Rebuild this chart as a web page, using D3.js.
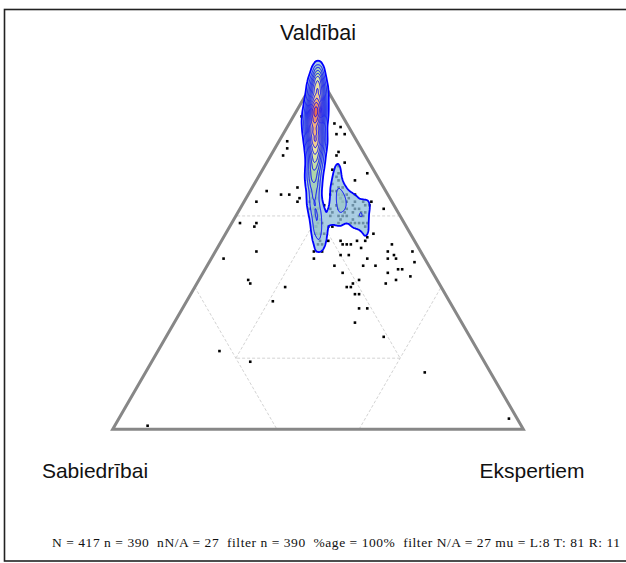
<!DOCTYPE html>
<html><head><meta charset="utf-8">
<script src="https://cdn.jsdelivr.net/npm/d3@7"></script>
<style>body{margin:0;background:#fff}svg{display:block}</style>
</head><body>
<svg id="c" width="626" height="563"></svg>
<script>
// ---- labels ----
const axisTop = "Valdībai";      // T
const axisLeft = "Sabiedrībai";  // L
const axisRight = "Ekspertiem";  // R
const footer = "N = 417 n = 390  nN/A = 27  filter n = 390  %age = 100%  filter N/A = 27 mu = L:8 T: 81 R: 11";
const gridHigh = 60, gridLow = 20;

// ---- individual responses (percent) ----
const ptL = [10,3,2,4,2,17,18,20,6,2,10,10,6,21,29,26,24,22,23,33,5,6,3,8,40,36,37,9,9,11,18,18,17,16,14,14,12,6,8,7,2,9,7,3,40,49,27,20,18,23,16,14,13,22,11,7,8,6,19,13,10,46,46,38,23,22,21,21,22,43,23,21,26,21,63,57,16,91,2,
 12,11,10,10,12,9,12,14,13,16,17,15,9,9,11,18,20,21,23,23,24,23,20,21,20,21,21,14,14,10,12,10,20,22,22,24,26,14,12,
 8,10,7,6,9, 11,13,12,10,14,11,13,15,12,16,11,9,
 12,10,8,7,10,16,13,19,10,7,12,17];
const ptT = [88,86,85,83,83,81,79,77,75,72,71,70,70,68,67,66,66,65,64,64,64,63,62,61,58,58,57,58,55,54,53,52,52,52,53,51,53,52,50,49,50,48,48,47,50,48,48,49,49,46,46,48,46,44,44,45,45,43,42,41,42,42,41,40,40,40,41,38,38,36,34,34,30,26,22,19,16,1,3,
 66,66,66,65,64,64,62,62,61,61,60,60,62,60,58,57,59,58,53,52,52,55,61,62,64,55,53,63,60,58,58,57,58,57,55,50,50,66,67,
 74,73,77,78,72, 68,67,65,63,63,61,60,59,59,62,64,61,
 69,68,66,64,62,58,58,57,60,63,65,63];
const ptR = [2,11,13,13,15,2,3,3,19,26,19,20,24,11,4,8,10,13,13,3,31,31,35,31,2,6,6,33,36,35,29,30,31,32,33,35,35,42,42,44,48,43,45,50,10,3,25,31,33,31,38,38,41,34,45,48,47,51,39,46,48,12,13,22,37,38,38,41,40,21,43,45,44,53,15,24,68,8,95,
 22,23,24,25,24,27,26,24,26,23,23,25,29,31,31,25,21,21,24,25,24,22,19,17,16,24,26,23,26,32,30,33,22,21,23,26,24,20,21,
 18,17,16,16,19, 21,20,23,27,23,28,27,26,29,22,25,30,
 19,22,26,29,28,26,29,24,30,30,23,20];

// ---- repeated responses near the top corner (percent, with counts) ----
const clL = [0, 3,2,1, 4,3,2,1, 6,5,4,3, 7,6,5,4, 8,7,6,5, 10,9,8,7, 11,10,9,8, 12,11,10,9, 13,12,11, 14,13,12, 16,15,14, 17,16,15, 18,17, 19,18, 20,19, 21,20, 22, 23];
const clT = [100, 97,97,97, 95,95,95,95, 92,92,92,92, 90,90,90,90, 88,88,88,88, 85,85,85,85, 82,82,82,82, 80,80,80,80, 77,77,77, 75,75,75, 72,72,72, 70,70,70, 67,67, 65,65, 62,62, 60,60, 57, 55];
const clR = [0, 0,1,2, 1,2,3,4, 2,3,4,5, 3,4,5,6, 4,5,6,7, 5,6,7,8, 7,8,9,10, 8,9,10,11, 10,11,12, 11,12,13, 12,13,14, 13,14,15, 15,16, 16,17, 18,19, 19,20, 21, 22];
const clN = [12, 3,6,6, 4,6,6,3, 3,6,6,5, 5,8,8,5, 6,8,7,5, 6,8,8,6, 5,7,6,4, 4,7,6,3, 5,5,3, 5,5,3, 3,3,2, 3,4,3, 2,3, 2,3, 2,2, 2,2, 2, 2];

// ---- build ----
const svg = d3.select("#c");
const W = 626, H = 563;
const xs = d3.scaleLinear().domain([0, 100]).range([112.7, 523.3]); // position along base: R + T/2
const ys = d3.scaleLinear().domain([0, 100]).range([429.3, 73.7]);  // T
const px = d => xs(d.R + d.T / 2);
const py = d => ys(d.T);

const points = [];
ptL.forEach((l, i) => points.push({L: l, T: ptT[i], R: ptR[i]}));
clL.forEach((l, i) => { for (let k = 0; k < clN[i]; k++) points.push({L: l, T: clT[i], R: clR[i]}); });

// frame
svg.append("rect").attr("x", 4.5).attr("y", 9.5).attr("width", 640).attr("height", 551.5)
  .attr("fill", "none").attr("stroke", "#222").attr("stroke-width", 1.6);

// grid lines
const segs = [];
const comps = ["L", "T", "R"];
comps.forEach((c, ci) => {
  const o1 = comps[(ci + 1) % 3], o2 = comps[(ci + 2) % 3];
  const a = {}; a[c] = gridHigh; a[o1] = 100 - gridHigh; a[o2] = 0;
  const b = {}; b[c] = gridHigh; b[o1] = 0; b[o2] = 100 - gridHigh;
  segs.push([a, b]);
  const e = {}; e[c] = gridLow; e[o1] = gridHigh; e[o2] = 100 - gridHigh - gridLow;
  const f = {}; f[c] = gridLow; f[o2] = gridHigh; f[o1] = 100 - gridHigh - gridLow;
  segs.push([e, f]);
});
svg.append("g").selectAll("line").data(segs).join("line")
  .attr("x1", d => px(d[0])).attr("y1", d => py(d[0]))
  .attr("x2", d => px(d[1])).attr("y2", d => py(d[1]))
  .attr("stroke", "#c8c8c8").attr("stroke-width", 0.8).attr("stroke-dasharray", "3,2");

// triangle
const corners = [{L: 0, T: 100, R: 0}, {L: 100, T: 0, R: 0}, {L: 0, T: 0, R: 100}];
svg.append("path")
  .attr("d", d3.line().x(px).y(py)(corners) + "Z")
  .attr("fill", "none").attr("stroke", "#878787").attr("stroke-width", 3);

// points
svg.append("g").selectAll("rect").data(points).join("rect")
  .attr("x", d => px(d) - 1.3).attr("y", d => py(d) - 1.3).attr("width", 2.6).attr("height", 2.6).attr("fill", "#000");

// density contours (anisotropic kernel: narrower across than along)
const sx = 2;
const dens = d3.contourDensity().x(d => px(d) * sx).y(py).size([Math.ceil(W * sx), H]).cellSize(1).bandwidth(7.5);
const cf = dens.contours(points);
const mx = cf.max;
const nLev = 11, lo = mx * 0.08;
const thr = d3.range(nLev).map(i => lo + (mx * 0.95 - lo) * i / (nLev - 1));
const col = d3.scaleLinear().domain([0, 0.3, 0.55, 0.8, 1])
  .range(["#8dbdda", "#b3d9a2", "#eef0a6", "#f3a876", "#e8604a"]);
const unstretch = d3.geoTransform({point(x, y) { this.stream.point(x / sx, y); }});
const path = d3.geoPath(unstretch);
const g = svg.append("g");
thr.forEach((t, i) => {
  g.append("path").attr("d", path(cf(t)))
    .attr("fill", col(i / (nLev - 1))).attr("fill-opacity", 0.75)
    .attr("stroke", "#0000ff").attr("stroke-width", i === 0 ? 1.8 : 1.0)
    .attr("stroke-linejoin", "round");
});

// labels
const lab = svg.append("g").attr("font-family", "'Liberation Sans', Arial, sans-serif")
  .attr("font-size", 21).attr("fill", "#111").attr("text-anchor", "middle");
lab.append("text").attr("x", 318).attr("y", 40).attr("font-size", 21.5).text(axisTop);
lab.append("text").attr("x", 95).attr("y", 478).text(axisLeft);
lab.append("text").attr("x", 532).attr("y", 478).text(axisRight);

svg.append("text").attr("x", 52).attr("y", 547)
  .attr("font-family", "'Liberation Serif', 'Times New Roman', serif").attr("font-size", 13.5)
  .attr("textLength", 568).attr("lengthAdjust", "spacing")
  .attr("fill", "#111").style("white-space", "pre").text(footer);
</script>
</body></html>
